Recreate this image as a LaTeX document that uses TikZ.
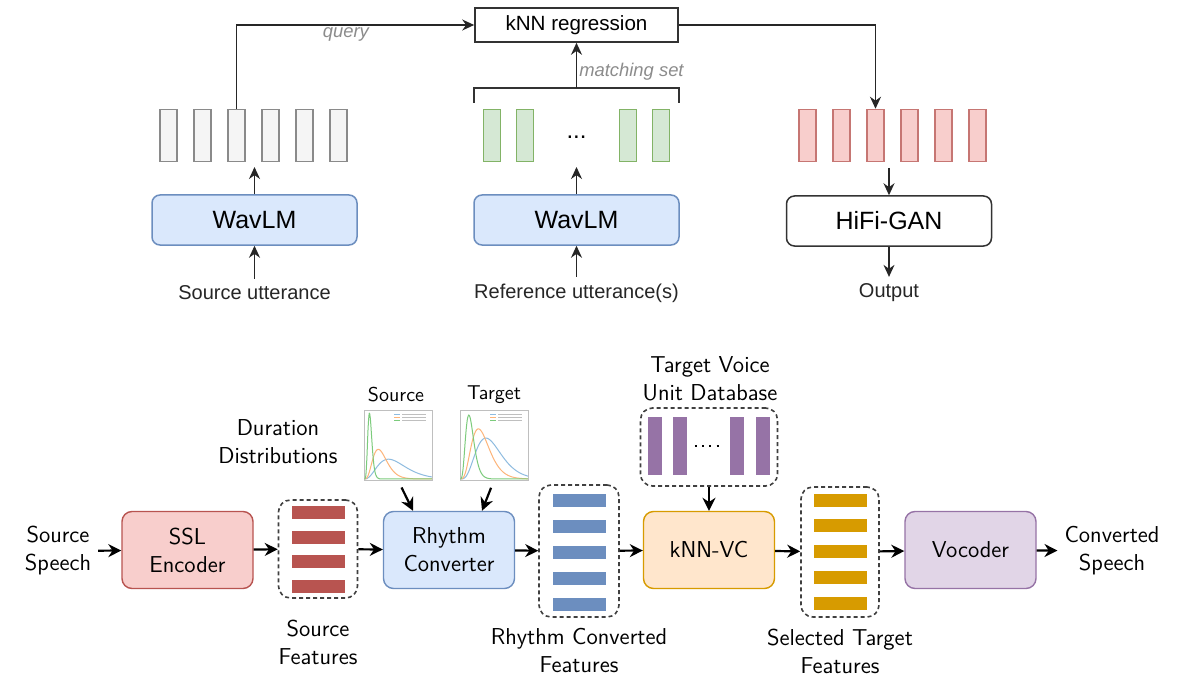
\documentclass[tikz,border=0pt]{standalone}
\usepackage{fontspec}
\newfontfamily\arialfont{Liberation Sans}
\usetikzlibrary{arrows.meta, calc}

\definecolor{grayFill}{HTML}{F5F5F5}
\definecolor{grayDraw}{HTML}{8A8A8A}
\definecolor{greenFill}{HTML}{D5E8D4}
\definecolor{greenDraw}{HTML}{82B366}
\definecolor{redFill}{HTML}{F8CECC}
\definecolor{redDraw}{HTML}{B85450}
\definecolor{blueFill}{HTML}{DAE8FC}
\definecolor{blueDraw}{HTML}{6C8EBF}
\definecolor{orangeFill}{HTML}{FFE6CC}
\definecolor{orangeDraw}{HTML}{D79B00}
\definecolor{purpleFill}{HTML}{E1D5E7}
\definecolor{purpleDraw}{HTML}{9673A6}
\definecolor{cBlue}{HTML}{8FBCE0}
\definecolor{cOrange}{HTML}{FDB57A}
\definecolor{cGreen}{HTML}{7CCB7C}

\tikzset{
  topbox/.style={draw, rounded corners=4pt, minimum width=102.5pt, minimum height=25pt,
                 line width=0.75pt, font=\arialfont\fontsize{12.5}{14}\selectfont},
  vec/.style={draw, minimum width=8.5pt, minimum height=26pt, inner sep=0pt, line width=0.75pt},
  toparr/.style={-{Stealth[length=6pt, width=5.5pt]}, line width=0.8pt, black!85},
  toplbl/.style={font=\arialfont\fontsize{10}{12}\selectfont, text=black!85},
  edgelbl/.style={font=\arialfont\itshape\fontsize{9.2}{11}\selectfont, text=black!45, inner sep=1pt},
  blk/.style={draw, rounded corners=5pt, minimum width=65.5pt, minimum height=38.5pt,
              align=center, line width=0.7pt, font=\sffamily\fontsize{11.5}{14}\selectfont},
  feat/.style={draw=black!75, dash pattern=on 2pt off 1.5pt, rounded corners=6pt,
               line width=0.8pt, inner sep=0pt},
  bar/.style={inner sep=0pt, minimum width=26.5pt, minimum height=6.5pt},
  arr/.style={-{Stealth[length=6.5pt, width=6.5pt]}, line width=1.1pt},
  lbl/.style={align=center, font=\sffamily\fontsize{11.5}{14}\selectfont},
  plotbox/.style={draw=black!25, line width=0.3pt, fill=white, minimum width=34pt,
                  minimum height=35pt, inner sep=0pt}
}

\begin{document}
\begin{tikzpicture}[x=0.5pt, y=-0.5pt]

  \fill[white] (0, 0) rectangle (1184, 680);

  % kNN-VC overview (top)
  \node[draw=black!80, line width=0.8pt, minimum width=101.5pt, minimum height=17pt,
        font=\arialfont\fontsize{10.3}{12}\selectfont] (knn) at (576.5, 25) {kNN regression};

  \foreach \i in {1,...,6} {
    \node[vec, fill=grayFill, draw=grayDraw] (g\i) at ({168.5 + 34*(\i - 1)}, 135.5) {};
    \node[vec, fill=redFill, draw=redDraw!80] (o\i) at ({807.5 + 34*(\i - 1)}, 135.5) {};
  }
  \foreach \x [count=\n] in {492, 525, 628, 661}
    \node[vec, fill=greenFill, draw=greenDraw] (m\n) at (\x, 135.5) {};
  \node[font=\arialfont\fontsize{12}{14}\selectfont] (dots) at (576.5, 137) {...};

  \node[topbox, fill=blueFill, draw=blueDraw] (wavA) at (254.5, 220) {WavLM};
  \node[topbox, fill=blueFill, draw=blueDraw] (wavB) at (576.5, 220) {WavLM};
  \node[topbox, fill=white, draw=black!80] (hifi) at (889, 221) {HiFi-GAN};

  \node[toplbl] (srcU) at (254.5, 293) {Source utterance};
  \node[toplbl] (refU) at (576.5, 293) {Reference utterance(s)};
  \node[toplbl] (outU) at (889, 293) {Output};

  \coordinate (gIn) at (254.5, 167);
  \coordinate (mIn) at (576.5, 167);
  \coordinate (oOut) at (889, 168);
  \coordinate (brL) at (474, 103);
  \coordinate (brR) at (679, 103);
  \coordinate (brM) at (576.5, 88);

  \draw[toparr] (srcU) -- (wavA);
  \draw[toparr] (refU) -- (wavB);
  \draw[toparr] (wavA) -- (gIn);
  \draw[toparr] (wavB) -- (mIn);
  \draw[toparr] (oOut) -- (hifi);
  \draw[toparr] (hifi) -- (outU);

  \draw[black!80, line width=0.8pt] (brL) |- (brM) -| (brR);
  \draw[toparr] (brM) -- (knn) node[pos=0.35, right, edgelbl] {matching set};
  \draw[toparr] (g3.north) |- (knn.west) node[pos=0.73, below, edgelbl] {query};
  \draw[toparr] (knn.east) -| (o3.north);

  % rhythm conversion pipeline (bottom)
  \node[lbl] (srcS) at (58, 551) {Source\\Speech};
  \node[blk, fill=redFill, draw=redDraw] (ssl) at (187.5, 550) {SSL\\Encoder};
  \node[blk, fill=blueFill, draw=blueDraw] (rhythm) at (449, 550) {Rhythm\\Converter};
  \node[blk, fill=orangeFill, draw=orangeDraw] (knnvc) at (709, 550) {kNN-VC};
  \node[blk, fill=purpleFill, draw=purpleDraw] (voc) at (970.5, 550) {Vocoder};
  \node[lbl] (cnvS) at (1112, 551) {Converted\\Speech};

  \node[feat, minimum width=39.5pt, minimum height=49pt] (sf) at (318, 549) {};
  \foreach \y [count=\n] in {512.5, 537, 561.5, 586}
    \node[bar, fill=redDraw] (sf\n) at (318, \y) {};

  \node[feat, minimum width=40pt, minimum height=66pt] (rcf) at (579, 551) {};
  \node[feat, minimum width=39pt, minimum height=65pt] (stf) at (840, 552) {};
  \foreach \n in {1,...,5} {
    \node[bar, fill=blueDraw] (rcf\n) at (579, {500 + 26*(\n - 1)}) {};
    \node[bar, fill=orangeDraw] (stf\n) at (840, {500 + 25.75*(\n - 1)}) {};
  }

  \node[feat, minimum width=68.5pt, minimum height=39pt] (tdb) at (709, 447) {};
  \foreach \x [count=\n] in {654.5, 679.5, 737, 763}
    \node[inner sep=0pt, minimum width=7pt, minimum height=29pt, fill=purpleDraw] (db\n) at (\x, 446) {};
  \draw[line width=1pt, dash pattern=on 1pt off 2.6pt, shorten <=4pt, shorten >=3pt] (db2.east) -- (db3.west);

  \node[lbl] (sfL) at (318, 642) {Source\\Features};
  \node[lbl] (rcfL) at (579, 651) {Rhythm Converted\\Features};
  \node[lbl] (stfL) at (840, 651) {Selected Target\\Features};
  \node[lbl] (tdbL) at (710, 379) {Target Voice\\Unit Database};
  \node[lbl] (durL) at (278, 442) {Duration\\Distributions};

  % duration plots
  \node[plotbox] (pS) at (398, 445) {};
  \node[plotbox] (pT) at (494, 445) {};
  \node[lbl, font=\sffamily\fontsize{10}{12}\selectfont] (pSL) at (396, 395) {Source};
  \node[lbl, font=\sffamily\fontsize{10}{12}\selectfont] (pTL) at (494, 395) {Target};

  \foreach \cx/\col/\p/\h/\k in {364/cBlue/0.36/0.30/3, 364/cOrange/0.21/0.45/4, 364/cGreen/0.08/1.0/7,
                                   460/cBlue/0.38/0.62/4, 460/cOrange/0.27/0.76/4, 460/cGreen/0.13/0.97/4.5} {
    \draw[\col, line width=0.5pt] plot[domain=0.01:1, samples=60, smooth]
      ({\cx + 68*\x}, {479 - 66*\h*exp(max(-9, \k*(ln(\x/\p) + 1 - \x/\p)))});
  }
  \foreach \cx in {364, 460}
    \foreach \col [count=\j] in {cBlue, cOrange, cGreen} {
      \draw[\col, line width=0.4pt] (\cx + 30, 411 + 3*\j) -- ++(6, 0);
      \draw[black!25, line width=0.3pt] (\cx + 38, 411 + 3*\j) -- ++(24, 0);
    }

  \draw[arr] (srcS) -- (ssl);
  \draw[arr] (ssl) -- (sf);
  \draw[arr] (sf) -- (rhythm);
  \draw[arr] (rhythm) -- (rcf);
  \draw[arr] (rcf) -- (knnvc);
  \draw[arr] (tdb) -- (knnvc);
  \draw[arr] (knnvc) -- (stf);
  \draw[arr] (stf) -- (voc);
  \draw[arr] (voc) -- (cnvS);
  \draw[arr, shorten <=4pt] (pS.south) -- ([xshift=-18pt]rhythm.north);
  \draw[arr, shorten <=4pt] (pT.south) -- ([xshift=16.5pt]rhythm.north);

\end{tikzpicture}
\end{document}
